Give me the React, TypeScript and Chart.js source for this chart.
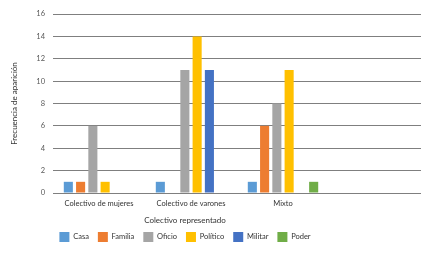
import React, { useEffect, useRef } from "react";
import { Chart, registerables } from "chart.js";

Chart.register(...registerables);

const categories = ["Colectivo de mujeres", "Colectivo de varones", "Mixto", ""];
const casa = [1, 1, 1, null];
const familia = [1, 0, 6, null];
const oficio = [6, 11, 8, null];
const politico = [1, 14, 11, null];
const militar = [0, 11, 0, null];
const poder = [0, 0, 1, null];
const yTicks = [0, 2, 4, 6, 8, 10, 12, 14, 16];

const FONT = "Lato, 'Open Sans', sans-serif";
const TEXT = "#333333";

export default function App() {
  const ref = useRef<HTMLCanvasElement | null>(null);

  useEffect(() => {
    if (!ref.current) return;
    const xTitlePlugin = {
      id: "xTitleAndLegendShift",
      afterLayout(chart: any) {
        const x = chart.scales.x;
        const cx = (x.getPixelForValue(0) + x.getPixelForValue(2)) / 2 - 6;
        const lg = chart.legend;
        if (lg) {
          const mid = (lg.left + lg.right) / 2;
          const dx = cx - mid;
          lg.left += dx;
          lg.right += dx;
        }
      },
      afterDraw(chart: any) {
        const x = chart.scales.x;
        const ctx = chart.ctx;
        const cx = (x.getPixelForValue(0) + x.getPixelForValue(2)) / 2 - 6;
        ctx.save();
        ctx.font = `8px ${FONT}`;
        ctx.fillStyle = TEXT;
        ctx.textAlign = "center";
        ctx.textBaseline = "middle";
        ctx.fillText("Colectivo representado", cx, chart.chartArea.bottom + 27);
        ctx.restore();
      },
    };

    const chart = new Chart(ref.current, {
      type: "bar",
      data: {
        labels: categories,
        datasets: [
          { label: "Casa", data: casa, backgroundColor: "#5B9BD5" },
          { label: "Familia", data: familia, backgroundColor: "#ED7D31" },
          { label: "Oficio", data: oficio, backgroundColor: "#A5A5A5" },
          { label: "Político", data: politico, backgroundColor: "#FFC000" },
          { label: "Militar", data: militar, backgroundColor: "#4472C4" },
          { label: "Poder", data: poder, backgroundColor: "#70AD47" },
        ],
      },
      options: {
        animation: false,
        responsive: true,
        maintainAspectRatio: false,
        datasets: { bar: { categoryPercentage: 0.8, barPercentage: 0.74 } },
        layout: { padding: { top: 14, right: 11, bottom: 2, left: 0 } },
        plugins: {
          tooltip: { enabled: false },
          legend: {
            position: "bottom",
            labels: {
              boxWidth: 10,
              boxHeight: 10,
              padding: 9,
              color: TEXT,
              font: { family: FONT, size: 7.5 },
            },
          },
        },
        scales: {
          x: {
            grid: { display: false, drawTicks: false, tickLength: 0 },
            border: { display: false },
            ticks: { color: TEXT, font: { family: FONT, size: 7.5 }, padding: 6, maxRotation: 0 },
            afterFit: (s: any) => {
              s.height = 30;
            },
          },
          y: {
            min: 0,
            max: 16,
            afterBuildTicks: (s: any) => {
              s.ticks = yTicks.map((v) => ({ value: v }));
            },
            grid: { color: "#7F7F7F", lineWidth: 1, drawTicks: false },
            border: { display: false },
            ticks: { color: "#595959", font: { family: FONT, size: 7.5 }, padding: 8 },
            title: {
              display: true,
              text: "Frecuencia de aparición",
              color: TEXT,
              font: { family: FONT, size: 8 },
              padding: { top: 10, bottom: 0 },
            },
            afterFit: (s: any) => {
              s.width = 53;
            },
          },
        },
      },
      plugins: [xTitlePlugin],
    });
    return () => chart.destroy();
  }, []);

  return (
    <div style={{ position: "fixed", left: 0, top: 0, width: 432, height: 254 }}>
      <canvas ref={ref} />
    </div>
  );
}
